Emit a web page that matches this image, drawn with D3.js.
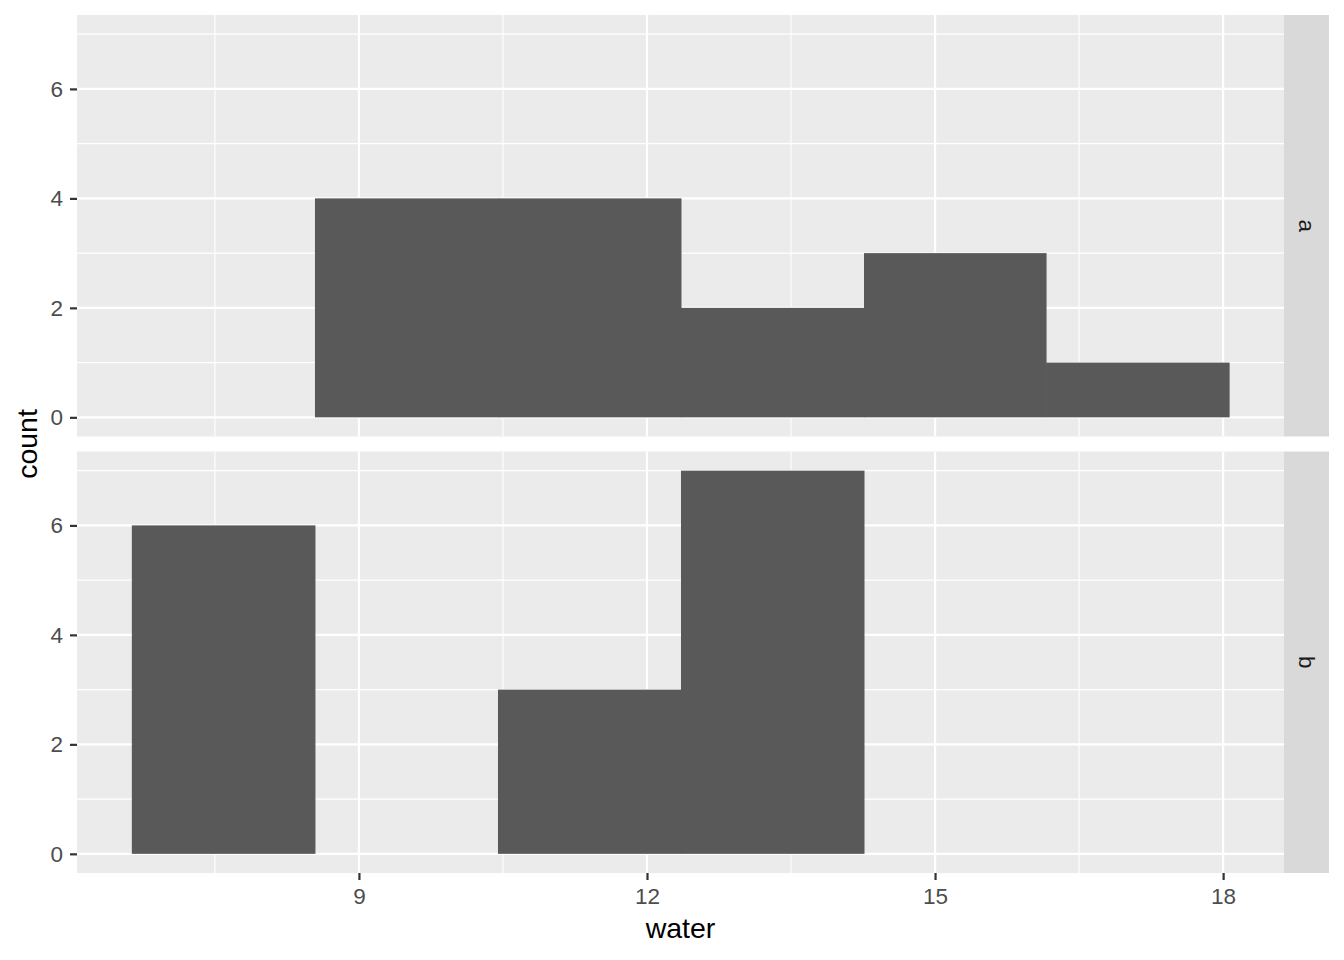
<!DOCTYPE html>
<html>
<head>
<meta charset="utf-8">
<script src="https://cdn.jsdelivr.net/npm/d3@7"></script>
<style>
  body { margin: 0; background: #fff; }
  svg text { font-family: "Liberation Sans", Arial, sans-serif; }
</style>
</head>
<body>
<div id="chart"></div>
<script>
// histogram bins (edges on the water axis) and counts per facet
var binEdges = [6.635, 8.542, 10.448, 12.354, 14.26, 16.156, 18.0625]
var facets = ["a", "b"]
var countsA = [0, 4, 4, 2, 3, 1]
var countsB = [6, 0, 3, 7, 0, 0]
var xTicks = [9, 12, 15, 18]
var xMinor = [7.5, 10.5, 13.5, 16.5]
var yTicks = [0, 2, 4, 6]
var yMinor = [1, 3, 5, 7]

var W = 1344, H = 960
var margin = { left: 77, right: 60, top: 15, bottom: 87 }
var stripW = 45, gap = 15
var tickFont = "22.5px", titleFont = "28.5px"

var svg = d3.select("#chart").append("svg")
  .attr("width", W).attr("height", H)

var panelW = 1284 - margin.left
var panelH = (H - margin.top - margin.bottom - gap) / 2

var x = d3.scaleLinear()
  .domain([6.0639, 18.634])
  .range([margin.left, margin.left + panelW])

var data = { a: countsA, b: countsB }

facets.forEach(function (f, fi) {
  var top = margin.top + fi * (panelH + gap)
  var y = d3.scaleLinear().domain([-0.35, 7.35]).range([top + panelH, top])
  var g = svg.append("g")

  g.append("rect")
    .attr("x", margin.left).attr("y", top)
    .attr("width", panelW).attr("height", panelH)
    .attr("fill", "#EBEBEB")

  // minor grid
  g.selectAll(".ym").data(yMinor).enter().append("line")
    .attr("x1", margin.left).attr("x2", margin.left + panelW)
    .attr("y1", d => y(d)).attr("y2", d => y(d))
    .attr("stroke", "#fff").attr("stroke-width", 1.1)
  g.selectAll(".xm").data(xMinor).enter().append("line")
    .attr("y1", top).attr("y2", top + panelH)
    .attr("x1", d => x(d)).attr("x2", d => x(d))
    .attr("stroke", "#fff").attr("stroke-width", 1.1)
  // major grid
  g.selectAll(".yM").data(yTicks).enter().append("line")
    .attr("x1", margin.left).attr("x2", margin.left + panelW)
    .attr("y1", d => y(d)).attr("y2", d => y(d))
    .attr("stroke", "#fff").attr("stroke-width", 2.2)
  g.selectAll(".xM").data(xTicks).enter().append("line")
    .attr("y1", top).attr("y2", top + panelH)
    .attr("x1", d => x(d)).attr("x2", d => x(d))
    .attr("stroke", "#fff").attr("stroke-width", 2.2)

  // bars
  var bins = data[f].map((c, i) => ({ x0: binEdges[i], x1: binEdges[i + 1], c: c }))
  g.selectAll(".bar").data(bins).enter().append("rect")
    .attr("x", d => x(d.x0)).attr("width", d => x(d.x1) - x(d.x0) + 0.5)
    .attr("y", d => y(d.c)).attr("height", d => y(0) - y(d.c))
    .attr("fill", "#595959")

  // y axis
  var ya = svg.append("g")
    .attr("transform", "translate(" + margin.left + ",0)")
    .call(d3.axisLeft(y).tickValues(yTicks).tickSize(7).tickPadding(7))
  ya.select(".domain").remove()
  ya.selectAll(".tick line").attr("stroke", "#333").attr("stroke-width", 2.2)
  ya.selectAll(".tick text").attr("fill", "#4D4D4D").style("font-size", tickFont)

  // strip
  svg.append("rect")
    .attr("x", margin.left + panelW).attr("y", top)
    .attr("width", stripW).attr("height", panelH)
    .attr("fill", "#D9D9D9")
  svg.append("text")
    .attr("transform", "translate(" + (margin.left + panelW + stripW / 2) + "," + (top + panelH / 2) + ") rotate(90)")
    .attr("text-anchor", "middle").attr("dy", "0.35em")
    .attr("fill", "#1A1A1A").style("font-size", tickFont)
    .text(f)
})

// x axis at bottom
var bottom = margin.top + 2 * panelH + gap
var xa = svg.append("g")
  .attr("transform", "translate(0," + bottom + ")")
  .call(d3.axisBottom(x).tickValues(xTicks).tickSize(7).tickPadding(8))
xa.select(".domain").remove()
xa.selectAll(".tick line").attr("stroke", "#333").attr("stroke-width", 2.2)
xa.selectAll(".tick text").attr("fill", "#4D4D4D").style("font-size", tickFont)

svg.append("text")
  .attr("x", margin.left + panelW / 2).attr("y", 938)
  .attr("text-anchor", "middle").attr("fill", "#000")
  .style("font-size", titleFont).text("water")

svg.append("text")
  .attr("transform", "translate(37," + (margin.top + panelH + gap / 2) + ") rotate(-90)")
  .attr("text-anchor", "middle").attr("fill", "#000")
  .style("font-size", titleFont).text("count")
</script>
</body>
</html>
